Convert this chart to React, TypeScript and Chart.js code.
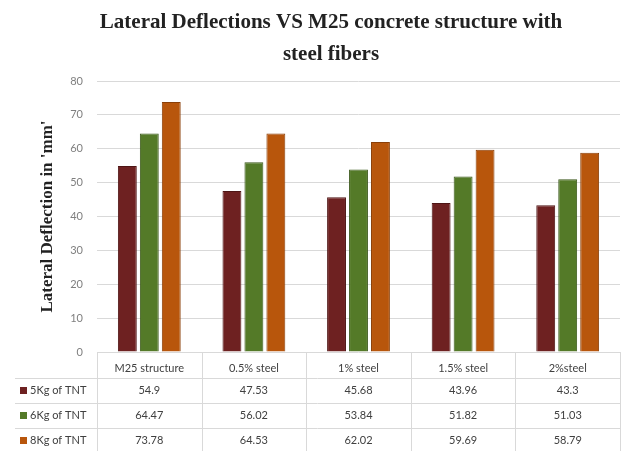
import React, { useEffect, useRef } from "react";
import { Chart, registerables } from "chart.js";

Chart.register(...registerables);

const titleLines = ["Lateral Deflections VS M25 concrete structure with", "steel fibers"];
const categories = ["M25 structure", "0.5% steel", "1% steel", "1.5% steel", "2%steel"];
const seriesNames = ["5Kg of TNT", "6Kg of TNT", "8Kg of TNT"];
const tnt5 = [54.9, 47.53, 45.68, 43.96, 43.3];
const tnt6 = [64.47, 56.02, 53.84, 51.82, 51.03];
const tnt8 = [73.78, 64.53, 62.02, 59.69, 58.79];
const yTicks = { min: 0, max: 80, step: 10 };

const fills = ["#6e2121", "#547a28", "#b8560c"];
const edges = ["#4e1515", "#3b581b", "#8a3f08"];

const LABEL_FONT = "Lato, 'Liberation Sans', sans-serif";
const SERIF = "'Liberation Serif', 'Times New Roman', serif";
const GRID = "#d9d9d9";

// Two-line bold serif heading, centred slightly right of the canvas middle.
const headingPlugin = {
  id: "heading",
  afterDraw(chart: any) {
    const ctx = chart.ctx;
    ctx.save();
    ctx.font = `bold 21px ${SERIF}`;
    ctx.fillStyle = "#222222";
    ctx.textAlign = "center";
    ctx.textBaseline = "alphabetic";
    const cx = 331;
    ctx.fillText(titleLines[0], cx, 28);
    ctx.fillText(titleLines[1], cx, 60);
    ctx.restore();
  },
};

// Draws the data table (legend keys + values) under the category axis.
const dataTablePlugin = {
  id: "dataTable",
  afterDraw(chart: any) {
    const ctx = chart.ctx;
    const x = chart.scales.x;
    const area = chart.chartArea;
    const n = categories.length;
    const colW = (x.right - x.left) / n;
    const headerBottom = area.bottom + 26;
    const rowH = 25;
    const tableLeft = 15;
    const tableBottom = chart.height;
    const values = [tnt5, tnt6, tnt8];

    ctx.save();
    ctx.strokeStyle = GRID;
    ctx.lineWidth = 1;
    ctx.beginPath();
    for (let r = 0; r < 3; r++) {
      const y = Math.round(headerBottom + r * rowH) + 0.5;
      ctx.moveTo(tableLeft, y);
      ctx.lineTo(x.right, y);
    }
    for (let i = 0; i <= n; i++) {
      const xx = Math.round(x.left + i * colW) + 0.5;
      ctx.moveTo(xx, area.bottom);
      ctx.lineTo(xx, tableBottom);
    }
    ctx.stroke();

    ctx.font = `11px ${LABEL_FONT}`;
    ctx.textBaseline = "middle";
    for (let r = 0; r < 3; r++) {
      const cy = headerBottom + r * rowH + rowH / 2;
      ctx.fillStyle = fills[r];
      ctx.fillRect(20, cy - 3.5, 7, 7);
      ctx.fillStyle = "#404040";
      ctx.textAlign = "left";
      ctx.fillText(seriesNames[r], 30, cy);
      ctx.textAlign = "center";
      for (let i = 0; i < n; i++) {
        ctx.fillText(String(values[r][i]), x.getPixelForValue(i), cy);
      }
    }
    ctx.restore();
  },
};

export default function App() {
  const ref = useRef<HTMLCanvasElement | null>(null);

  useEffect(() => {
    if (!ref.current) return;
    const chart = new Chart(ref.current, {
      type: "bar",
      data: {
        labels: categories,
        datasets: [tnt5, tnt6, tnt8].map((d, i) => ({
          label: seriesNames[i],
          data: d,
          backgroundColor: fills[i],
          borderColor: edges[i],
          borderWidth: 1,
          categoryPercentage: 0.63,
          barPercentage: 0.86,
        })),
      },
      options: {
        responsive: false,
        animation: false,
        layout: { padding: { top: 81, right: 9, bottom: 73, left: 0 } },
        plugins: {
          legend: { display: false },
          tooltip: { enabled: false },
          title: { display: false },
        },
        scales: {
          x: {
            grid: { display: false },
            border: { display: false },
            ticks: {
              color: "#404040",
              font: { family: LABEL_FONT, size: 11 },
              padding: 2,
              maxRotation: 0,
            },
            afterFit(scale: any) {
              scale.height = 26;
            },
          },
          y: {
            min: yTicks.min,
            max: yTicks.max,
            grid: { color: GRID, drawTicks: false },
            border: { display: false },
            ticks: {
              stepSize: yTicks.step,
              color: "#7f7f7f",
              font: { family: LABEL_FONT, size: 11 },
              padding: 14,
            },
            title: {
              display: true,
              text: "Lateral Deflection in 'mm'",
              color: "#222222",
              font: { family: SERIF, size: 17, weight: "bold" },
              padding: { top: 37, bottom: 0 },
            },
            afterFit(scale: any) {
              scale.width = 97;
            },
          },
        },
      },
      plugins: [headingPlugin, dataTablePlugin],
    });
    return () => chart.destroy();
  }, []);

  return (
    <div style={{ position: "fixed", left: 0, top: 0, width: 629, height: 451, background: "#ffffff" }}>
      <canvas ref={ref} width={629} height={451} />
    </div>
  );
}
